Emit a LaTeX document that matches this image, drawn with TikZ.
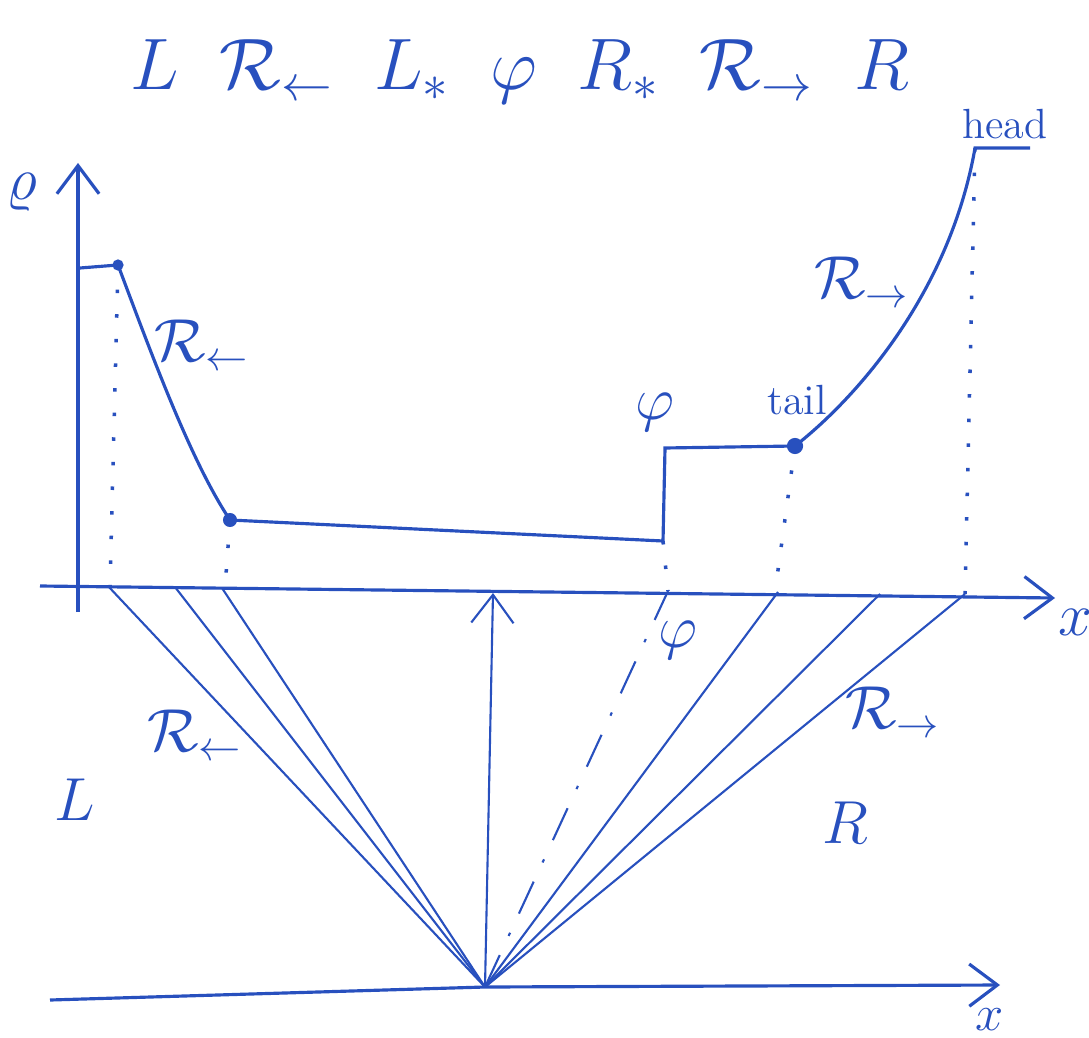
\documentclass[tikz,border=0pt]{standalone}
\usetikzlibrary{arrows.meta}
\definecolor{ink}{RGB}{40,80,190}
\begin{document}
\begin{tikzpicture}[x=0.01cm,y=-0.01cm,ink,line width=0.9pt,
  >={Straight Barb[length=8pt,width=12pt]},
  lbl/.style={text=ink,font=\LARGE},
  small/.style={text=ink,font=\large},
  ray/.style={line width=0.6pt},
  guide/.style={line width=1pt,dash pattern=on 1pt off 6pt}]
  \useasboundingbox (0,0) rectangle (1089,1037);
  % title line
  \node[text=ink,font=\huge] (title) at (520,72)
    {$L\;\;\mathcal{R}_{\leftarrow}\;\;L_*\;\;\varphi\;\;R_*\;\;\mathcal{R}_{\rightarrow}\;\;R$};
  % upper axes
  \coordinate (ax0) at (40,586);
  \coordinate (ax1) at (1055,598);
  \draw[->] (ax0) -- (ax1);
  \node[lbl] (xa) at (1075,622) {$x$};
  \draw[->] (78,612) -- (78,163);
  \node[lbl] (rho) at (22,192) {$\varrho$};
  % profile
  \coordinate (lft) at (80,268);
  \coordinate (hd) at (118,265);
  \coordinate (tl) at (230,520);
  \coordinate (phl) at (663,541);
  \coordinate (phu) at (665,448);
  \coordinate (tr) at (795,446);
  \coordinate (hr) at (975,148);
  \coordinate (rgt) at (1030,148);
  \draw (lft) -- (hd) .. controls (150,350) and (190,460) .. (tl)
    -- (phl) -- (phu) -- (tr)
    .. controls (860,395) and (950,290) .. (hr) -- (rgt);
  \fill (hd) circle (1.6pt) (tl) circle (2pt) (tr) circle (2.3pt);
  \node[lbl] (qlu) at (202,345) {$\mathcal{R}_{\leftarrow}$};
  \node[lbl] (phiu) at (655,412) {$\varphi$};
  \node[small] (tail) at (797,400) {tail};
  \node[small] (head) at (1005,124) {head};
  \node[lbl] (qru) at (862,282) {$\mathcal{R}_{\rightarrow}$};
  % projections onto the x axis
  \coordinate (fh) at (110,587);
  \coordinate (ft) at (225,588);
  \coordinate (fp) at (668,591);
  \coordinate (ftr) at (775,592);
  \coordinate (fhr) at (965,594);
  \draw[guide] (hd) -- (fh);
  \draw[guide] (tl) -- (ft);
  \draw[guide] (phl) -- (fp);
  \draw[guide] (tr) -- (ftr);
  \draw[guide] (hr) -- (fhr);
  % x-t plane
  \coordinate (O) at (485,987);
  \draw[->] (50,1000) -- (O) -- (1000,985);
  \node[text=ink,font=\Large,inner sep=0pt] (xb) at (990,1020) {$x$};
  \foreach \p in {(108,586),(175,587),(222,588),(778,592),(880,594),(965,594)}
    \draw[ray] (O) -- \p;
  \draw[ray,->] (O) -- (493,593);
  \draw[ray,dash pattern=on 10pt off 6pt on 1pt off 6pt] (O) -- (fp);
  \node[lbl] (qll) at (195,735) {$\mathcal{R}_{\leftarrow}$};
  \node[lbl] (L) at (75,800) {$L$};
  \node[lbl] (phil) at (678,640) {$\varphi$};
  \node[lbl] (qrl) at (893,712) {$\mathcal{R}_{\rightarrow}$};
  \node[lbl] (R) at (845,823) {$R$};
\end{tikzpicture}
\end{document}
